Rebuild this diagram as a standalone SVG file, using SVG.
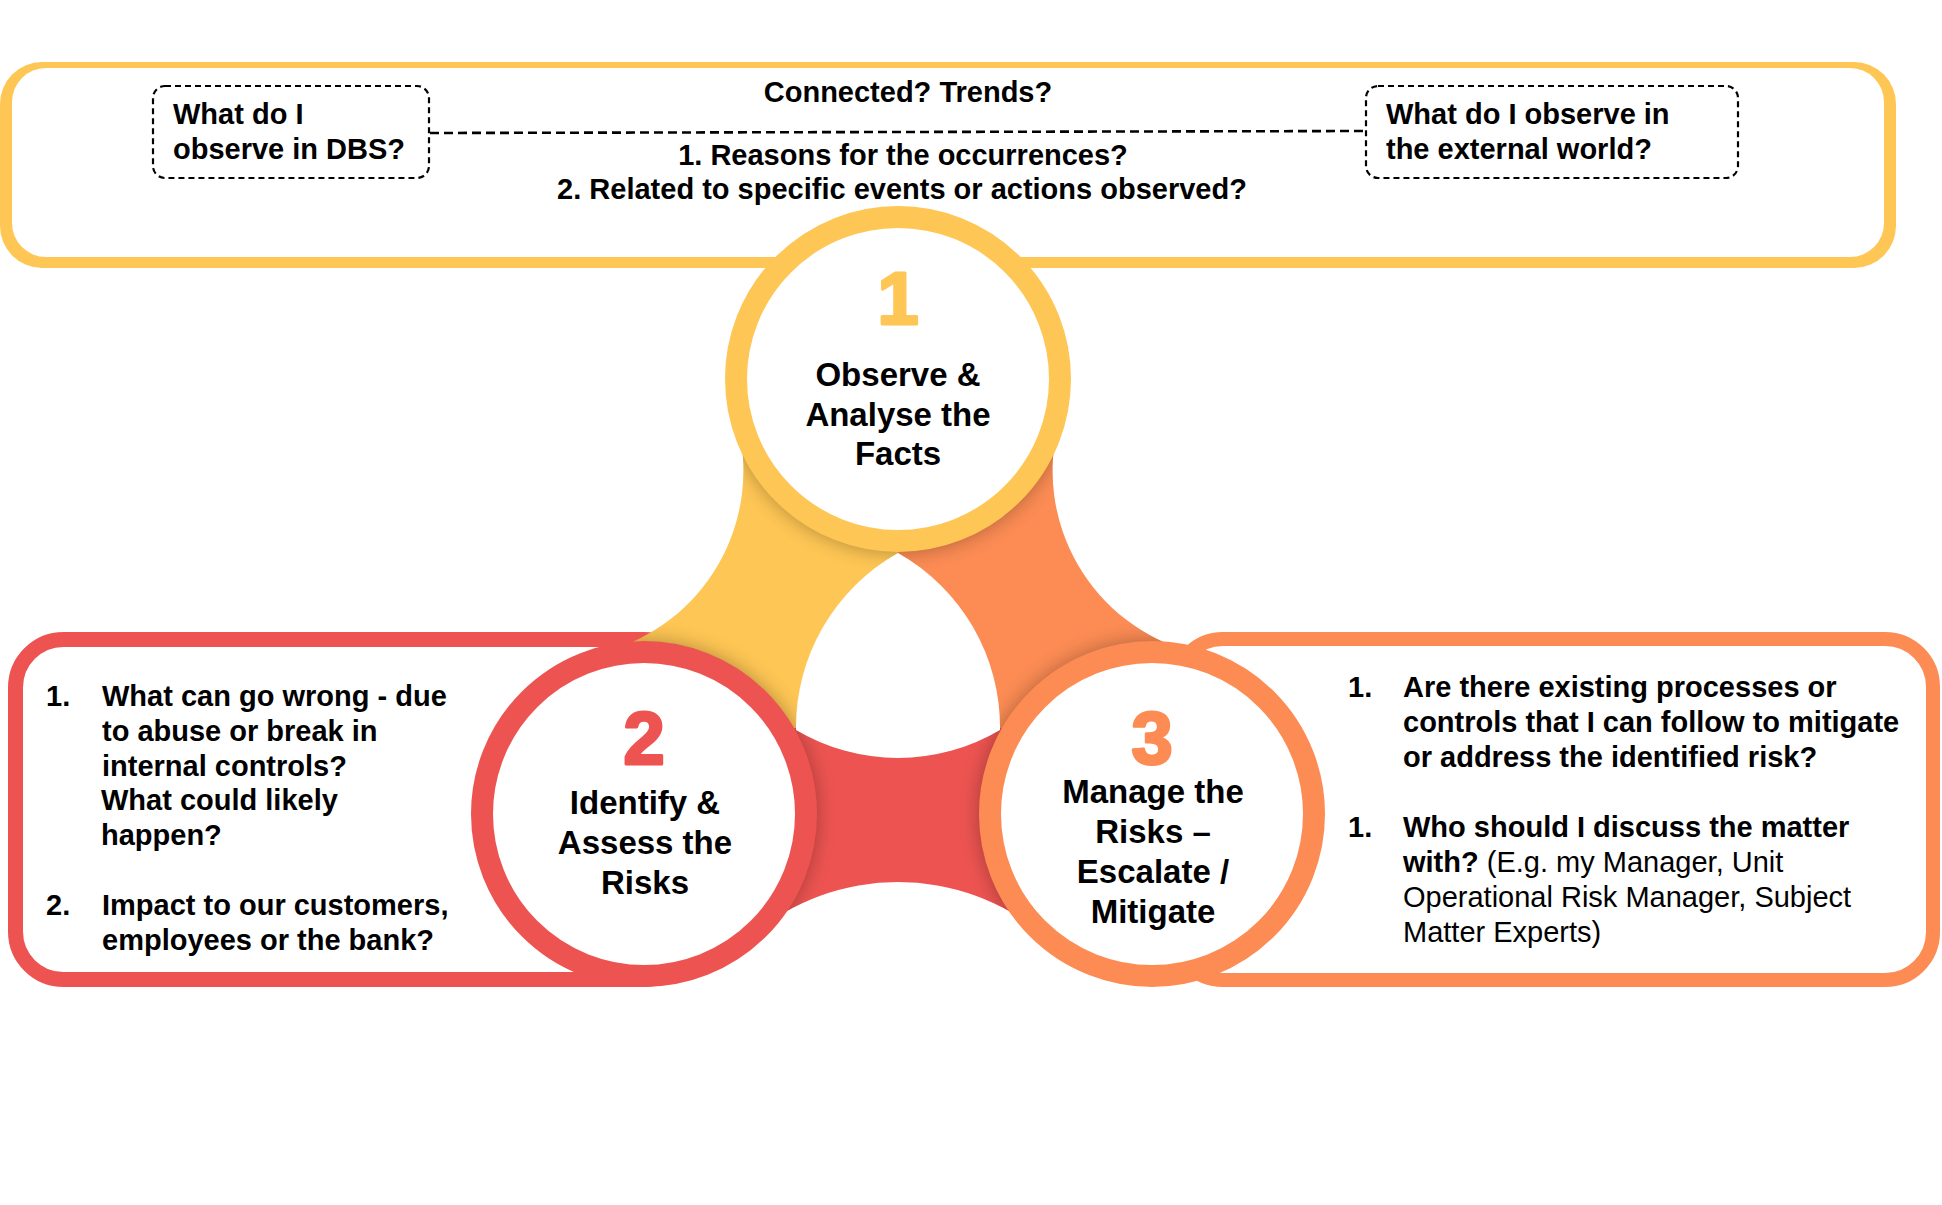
<svg xmlns="http://www.w3.org/2000/svg" width="1942" height="1205" viewBox="0 0 1942 1205">
<defs>
<style>
.t{font-family:"Liberation Sans",Arial,sans-serif;font-weight:bold;font-size:29px;fill:#000}
.r{font-weight:normal}
.m{text-anchor:middle}
.c{font-size:33px}
.n{font-size:74px;stroke-width:3;stroke-linejoin:round}
.dash{fill:none;stroke:#000;stroke-width:2.2;stroke-dasharray:6 4}
.ring{fill:#fff;stroke-width:22}
</style>
<filter id="blur" x="-30%" y="-30%" width="160%" height="160%"><feGaussianBlur stdDeviation="10"/></filter>
<clipPath id="bandclip"><path clip-rule="evenodd" d="M737,422.1 A187.7 187.7 0 0 1 604.3,652 L752.1,935.1 A227 227 0 0 1 1043.9,935.1 L1191.7,652 A187.7 187.7 0 0 1 1059,422.1 Z M898,553 A200 200 0 0 0 796,730 A200 200 0 0 0 1000,730 A200 200 0 0 0 898,553 Z"/></clipPath>
</defs>
<rect width="1942" height="1205" fill="#fff"/>

<g id="frame-observe">
<rect x="0" y="62" width="1896" height="206" rx="42" fill="#FEC654"/>
<rect x="12" y="68" width="1872" height="189" rx="34" fill="#fff"/>
<text class="t m" x="908" y="102">Connected? Trends?</text>
<text class="t m" x="903" y="165">1. Reasons for the occurrences?</text>
<text class="t m" x="902" y="199">2. Related to specific events or actions observed?</text>
</g>

<g id="box-dbs">
<rect class="dash" x="153" y="86" width="276" height="92" rx="12"/>
<text class="t" x="173" y="124">What do I</text>
<text class="t" x="173" y="159">observe in DBS?</text>
</g>

<g id="box-external">
<rect class="dash" x="1366" y="86" width="372" height="92" rx="12"/>
<text class="t" x="1386" y="124">What do I observe in</text>
<text class="t" x="1386" y="159">the external world?</text>
</g>

<g id="connectors">
<line x1="430" y1="133" x2="1366" y2="131" stroke="#000" stroke-width="2.6" stroke-dasharray="9 5"/>
</g>

<g id="panel-identify">
<rect x="15.5" y="639.5" width="677" height="340" rx="48" fill="#fff" stroke="#ED5451" stroke-width="15"/>
<text class="t" x="46" y="706">1.</text>
<text class="t" x="102" y="706">What can go wrong - due</text>
<text class="t" x="102" y="741">to abuse or break in</text>
<text class="t" x="102" y="776">internal controls?</text>
<text class="t" x="101" y="810">What could likely</text>
<text class="t" x="101" y="845">happen?</text>
<text class="t" x="46" y="915">2.</text>
<text class="t" x="102" y="915">Impact to our customers,</text>
<text class="t" x="102" y="950">employees or the bank?</text>
</g>

<g id="panel-manage">
<rect x="1175" y="639" width="758" height="341" rx="48" fill="#fff" stroke="#FC8C54" stroke-width="14"/>
<text class="t" x="1348" y="697">1.</text>
<text class="t" x="1403" y="697">Are there existing processes or</text>
<text class="t" x="1403" y="732">controls that I can follow to mitigate</text>
<text class="t" x="1403" y="767">or address the identified risk?</text>
<text class="t" x="1348" y="837">1.</text>
<text class="t" x="1403" y="837">Who should I discuss the matter</text>
<text class="t" x="1403" y="872">with?<tspan class="r"> (E.g. my Manager, Unit</tspan></text>
<text class="t r" x="1403" y="907">Operational Risk Manager, Subject</text>
<text class="t r" x="1403" y="942">Matter Experts)</text>
</g>

<g id="bands">
<path fill="#FEC654" d="M898,379 L737,422.1 A187.7 187.7 0 0 1 604.3,652 L644,814 L898,669 Z"/>
<path fill="#FC8C54" d="M898,379 L1059,422.1 A187.7 187.7 0 0 0 1191.7,652 L1152,814 L898,669 Z"/>
<path fill="#ED5451" d="M644,814 L752.1,935.1 A227 227 0 0 1 1043.9,935.1 L1152,814 L898,669 Z"/>
<path fill="#fff" d="M898,553 A200 200 0 0 0 796,730 A200 200 0 0 0 1000,730 A200 200 0 0 0 898,553 Z"/>
<g clip-path="url(#bandclip)">
<g filter="url(#blur)" fill="#000" opacity="0.3">
<circle cx="898" cy="379" r="173"/>
<circle cx="644" cy="814" r="173"/>
<circle cx="1152" cy="814" r="173"/>
</g>
</g>
</g>

<g id="step-1">
<circle class="ring" cx="898" cy="379" r="162" stroke="#FEC654"/>
<text class="t m n" x="898" y="324" style="fill:#FEC654;stroke:#FEC654">1</text>
<text class="t m c" x="898" y="386">Observe &amp;</text>
<text class="t m c" x="898" y="426">Analyse the</text>
<text class="t m c" x="898" y="465">Facts</text>
</g>

<g id="step-2">
<circle class="ring" cx="644" cy="814" r="162" stroke="#ED5451"/>
<text class="t m n" x="644" y="764" style="fill:#ED5451;stroke:#ED5451">2</text>
<text class="t m c" x="645" y="814">Identify &amp;</text>
<text class="t m c" x="645" y="854">Assess the</text>
<text class="t m c" x="645" y="894">Risks</text>
</g>

<g id="step-3">
<circle class="ring" cx="1152" cy="814" r="162" stroke="#FC8C54"/>
<text class="t m n" x="1152" y="764" style="fill:#FC8C54;stroke:#FC8C54">3</text>
<text class="t m c" x="1153" y="803">Manage the</text>
<text class="t m c" x="1153" y="843">Risks –</text>
<text class="t m c" x="1153" y="883">Escalate /</text>
<text class="t m c" x="1153" y="923">Mitigate</text>
</g>
</svg>
